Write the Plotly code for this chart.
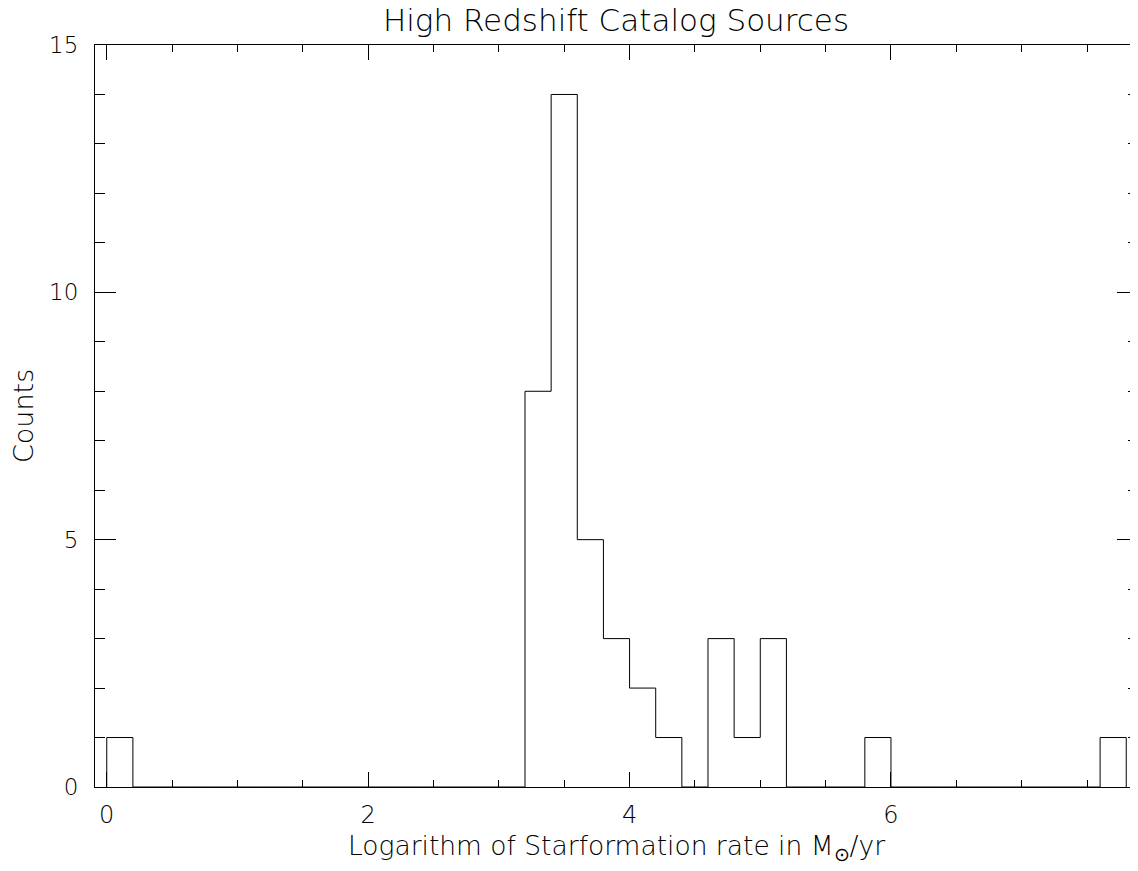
import plotly.graph_objects as go

# Histogram data (bin width 0.2, first bin starts at 0.0)
bin_start = 0.0
bin_width = 0.2
counts = [1, 0, 0, 0, 0, 0, 0, 0, 0, 0,
          0, 0, 0, 0, 0, 0, 8, 14, 5, 3,
          2, 1, 0, 3, 1, 3, 0, 0, 0, 1,
          0, 0, 0, 0, 0, 0, 0, 0, 1]

x_tickvals = [0, 2, 4, 6]
x_ticktext = ["0", "2", "4", "6"]
y_tickvals = [0, 5, 10, 15]
y_ticktext = ["0", "5", "10", "15"]

title_text = "High Redshift Catalog Sources"
x_title = "Logarithm of Starformation rate in M<sub>⊙</sub>/yr"
y_title = "Counts"

n = len(counts)
lefts = [round(bin_start + i * bin_width, 4) for i in range(n)]
right_end = round(bin_start + n * bin_width, 4)
xs = [lefts[0]] + lefts + [right_end]
ys = [0] + counts + [0]

FONT = "DejaVu Sans"
WT = 200
OFF = 8  # page body margin
W, H = 1130, 863
L, T = 95 - OFF, 45 - OFF
PW, PH = 1043, 742
R, B = W - L - PW, H - T - PH

fig = go.Figure()
fig.add_trace(go.Scatter(x=xs, y=ys, mode="lines",
                         line=dict(shape="hv", color="black", width=1),
                         hoverinfo="skip", showlegend=False))

fig.update_layout(
    width=W, height=H,
    margin=dict(l=L, r=R, t=T, b=B, autoexpand=False),
    paper_bgcolor="white", plot_bgcolor="white",
    font=dict(family=FONT, color="black", size=22, weight=WT),
    title=dict(text=title_text, x=(616 - OFF) / W, xref="container",
               xanchor="center", y=1 - 1 / H, yref="container",
               yanchor="top", automargin=False,
               font=dict(family=FONT, size=31, color="black", weight=WT)),
    showlegend=False,
)

fig.update_xaxes(
    range=[-0.09, 7.89], showgrid=False, zeroline=False, automargin=False,
    showline=True, linecolor="black", linewidth=1, mirror="allticks",
    ticks="inside", ticklen=15, tickcolor="black", tickwidth=1,
    tickvals=x_tickvals, ticktext=x_ticktext, ticklabelstandoff=6,
    tickfont=dict(family=FONT, size=24, color="black", weight=WT),
    minor=dict(ticks="inside", ticklen=7, dtick=0.5, tick0=0,
               tickcolor="black", tickwidth=1, showgrid=False),
)
fig.update_yaxes(
    range=[0, 15], showgrid=False, zeroline=False, automargin=False,
    showline=True, linecolor="black", linewidth=1, mirror="allticks",
    ticks="inside", ticklen=21, tickcolor="black", tickwidth=1,
    tickvals=y_tickvals, ticktext=y_ticktext, ticklabelstandoff=11,
    tickfont=dict(family=FONT, size=23, color="black", weight=WT),
    minor=dict(ticks="inside", ticklen=10, dtick=1, tick0=0,
               tickcolor="black", tickwidth=1, showgrid=False),
)

fig.add_annotation(text=x_title, xref="paper", yref="paper",
                   x=0.5, y=-(847 - 787) / PH,
                   xanchor="center", yanchor="middle", showarrow=False,
                   font=dict(family=FONT, size=26.5, color="black", weight=WT))
fig.add_annotation(text=y_title, xref="paper", yref="paper",
                   x=-(95 - 23) / PW, y=0.5, textangle=-90,
                   xanchor="center", yanchor="middle", showarrow=False,
                   font=dict(family=FONT, size=27, color="black", weight=WT))

fig.write_html("out.html")
